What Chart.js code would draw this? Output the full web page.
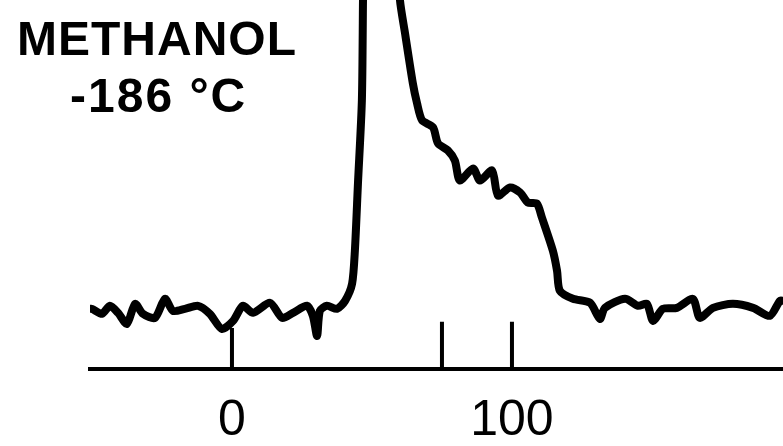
<!DOCTYPE html>
<html>
<head>
<meta charset="utf-8">
<title>Methanol -186 °C</title>
<script src="https://cdn.jsdelivr.net/npm/chart.js@4.4.1/dist/chart.umd.min.js"></script>
<style>
  body { margin: 0; background: #fff; }
  #wrap { position: relative; width: 783px; height: 446px; }
  .label {
    position: absolute;
    font-family: "Liberation Sans", Arial, sans-serif;
    font-weight: bold;
    font-size: 48px;
    line-height: 1;
    color: #000;
    white-space: nowrap;
  }
</style>
</head>
<body>
<div id="wrap">
  <canvas id="spectrum" width="783" height="446"></canvas>
  <div class="label" style="left:17px; top:15px; letter-spacing:1px">METHANOL</div>
  <div class="label" style="left:70px; top:72px; letter-spacing:2px">-186 °C</div>
</div>
<script>
// spectrum trace (x in axis units, intensity arbitrary)
const shift = [
  -50.7, -50.0, -46.4, -43.6, -40.7, -37.5, -34.6, -31.8, -27.5, -23.9,
  -21.1, -16.8, -12.1, -7.9, -3.6, 0.4, 3.9, 7.5, 13.6, 17.9,
  21.8, 26.8, 28.9, 30.4, 31.4, 33.9, 37.5, 40.4, 42.9, 43.9,
  45.0, 46.4, 46.8, 47.1, 53.2, 59.6, 60.0, 61.8, 64.6, 66.1,
  67.9, 71.8, 73.6, 77.1, 79.6, 81.4, 86.1, 88.6, 92.9, 95.0,
  99.3, 102.9, 105.7, 108.9, 110.7, 114.6, 116.1, 117.1, 121.8, 127.9,
  131.4, 133.2, 140.4, 145.0, 148.2, 150.4, 153.9, 158.9, 164.6, 167.1,
  171.8, 178.9, 186.1, 192.1, 195.7, 196.8
];
const intensity = [
  64, 64, 59, 67, 60, 49, 69, 59, 55, 74,
  62, 64, 67, 59, 44, 52, 67, 60, 70, 55,
  60, 67, 57, 37, 62, 67, 64, 72, 89, 122,
  189, 272, 372, 432, 772, 412, 372, 339, 289, 269,
  252, 245, 229, 222, 212, 192, 204, 192, 202, 177,
  185, 180, 170, 169, 155, 122, 102, 82, 74, 70,
  54, 65, 74, 67, 69, 52, 64, 65, 74, 55,
  65, 69, 65, 57, 72, 72
];

// marker lines standing on the axis
const markerPos = [0, 75, 100];
const markerTop = [45, 51, 51];
const tickLabels = [0, 100];

const axisLevel = 4;

const trace = shift.map((x, i) => ({ x: x, y: intensity[i] }));

const markers = [];
markerPos.forEach((x, i) => {
  markers.push({ x: x, y: axisLevel });
  markers.push({ x: x, y: markerTop[i] });
  markers.push({ x: x, y: null });
});

new Chart(document.getElementById("spectrum"), {
  type: "line",
  data: {
    datasets: [{
      data: trace,
      borderColor: "#000",
      borderWidth: 8,
      borderJoinStyle: "round",
      borderCapStyle: "round",
      pointRadius: 0,
      tension: 0.25,
      fill: false
    }, {
      data: markers,
      borderColor: "#000",
      borderWidth: 4,
      pointRadius: 0,
      tension: 0,
      spanGaps: false,
      fill: false
    }]
  },
  options: {
    responsive: false,
    animation: false,
    devicePixelRatio: 1,
    layout: { padding: { left: 90, right: 0, top: 0, bottom: -28 } },
    plugins: {
      legend: { display: false },
      tooltip: { enabled: false }
    },
    scales: {
      x: {
        type: "linear",
        min: -50.7,
        max: 196.8,
        afterBuildTicks: (scale) => {
          scale.ticks = tickLabels.map(v => ({ value: v }));
        },
        grid: { display: false, drawTicks: false },
        border: { display: true, color: "#000", width: 4 },
        ticks: {
          color: "#000",
          padding: 25,
          maxRotation: 0,
          font: { family: "'Liberation Sans', Arial, sans-serif", size: 50, lineHeight: 1.1 },
          callback: (v) => v
        }
      },
      y: {
        display: false,
        min: axisLevel,
        max: 372
      }
    }
  }
});
</script>
</body>
</html>
